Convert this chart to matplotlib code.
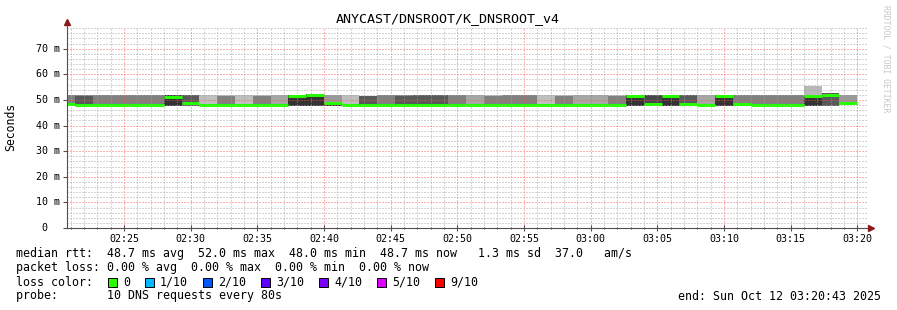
import numpy as np
import matplotlib
matplotlib.use("Agg")
import matplotlib.pyplot as plt
from matplotlib.ticker import MultipleLocator, FuncFormatter

# ================================
# Datos: un valor por paso de 80 s (ms)
# ================================
t_ini = 2 * 60 + 20 + 43 / 60          # 02:20:43 (inicio del grafico)
t_primer_paso = 2 * 60 + 21 + 19 / 60  # 02:21:19
paso = 80 / 60
n_pasos = 45

mediana = [48.5, 48.0, 48.0, 48.0, 48.0, 48.0, 51.3, 49.0, 48.0, 48.0,
           48.0, 48.0, 48.0, 51.4, 52.0, 48.8, 48.0, 48.0, 48.0, 48.0,
           48.0, 48.0, 48.0, 48.0, 48.0, 48.0, 48.0, 48.0, 48.0, 48.0,
           48.0, 48.0, 51.4, 48.6, 51.4, 48.6, 48.0, 51.4, 48.5, 48.0,
           48.0, 48.0, 51.4, 52.0, 48.7]

humo_min = [47.7] * 44 + [47.9]
humo_max = [52.0, 52.0, 52.0, 52.0, 52.0, 52.0, 52.0, 52.0, 52.0, 52.0,
            52.0, 52.0, 52.0, 52.0, 52.3, 52.0, 52.0, 51.4, 52.0, 52.0,
            52.0, 52.0, 52.0, 52.0, 52.0, 52.0, 52.0, 52.0, 52.0, 52.0,
            52.0, 52.0, 52.0, 52.0, 52.0, 52.0, 52.0, 52.0, 52.0, 52.0,
            52.0, 52.0, 55.3, 52.6, 52.0]
# densidad del humo (0 = blanco, 1 = negro)
humo_dens = [0.50, 0.50, 0.50, 0.50, 0.50, 0.50, 0.80, 0.65, 0.25, 0.25,
             0.25, 0.25, 0.35, 0.80, 0.80, 0.40, 0.25, 0.65, 0.50, 0.50,
             0.65, 0.65, 0.50, 0.35, 0.25, 0.50, 0.50, 0.25, 0.25, 0.35,
             0.35, 0.25, 0.80, 0.72, 0.80, 0.65, 0.35, 0.80, 0.50, 0.50,
             0.50, 0.50, 0.28, 0.65, 0.40]

# nucleo mas denso del humo (nan = no hay)
nan = np.nan
nucleo_min = [47.7, 48.6, nan, nan, nan, nan, nan, nan, nan, 47.7,
              nan, 47.7, nan, nan, nan, 47.7, nan, nan, nan, 47.7,
              nan, nan, nan, nan, 47.7, nan, nan, nan, 47.7, nan,
              nan, 47.7, nan, nan, nan, nan, nan, nan, 47.7, nan,
              nan, nan, 47.7, nan, nan]
nucleo_max = [48.2, 51.4, nan, nan, nan, nan, nan, nan, nan, 51.4,
              nan, 51.4, nan, nan, nan, 48.3, nan, nan, nan, 51.4,
              nan, nan, nan, nan, 51.4, nan, nan, nan, 51.4, nan,
              nan, 51.4, nan, nan, nan, nan, nan, nan, 48.1, nan,
              nan, nan, 51.6, nan, nan]
nucleo_dens = [0.80, 0.65, 0, 0, 0, 0, 0, 0, 0, 0.50,
               0, 0.50, 0, 0, 0, 0.80, 0, 0, 0, 0.65,
               0, 0, 0, 0, 0.50, 0, 0, 0, 0.50, 0,
               0, 0.50, 0, 0, 0, 0, 0, 0, 0.80, 0,
               0, 0, 0.80, 0, 0]

perdida = [0] * n_pasos

loss_labels = ["0", "1/10", "2/10", "3/10", "4/10", "5/10", "9/10"]
loss_colors = ["#26ff00", "#00b8ff", "#0059ff", "#5e00ff", "#7e00ff", "#dd00ff", "#ff0000"]

titulo = "ANYCAST/DNSROOT/K_DNSROOT_v4"
linea_rtt = "median rtt:  48.7 ms avg  52.0 ms max  48.0 ms min  48.7 ms now   1.3 ms sd  37.0   am/s"
linea_loss = "packet loss: 0.00 % avg  0.00 % max  0.00 % min  0.00 % now"
linea_probe = "probe:       10 DNS requests every 80s"
linea_end = "end: Sun Oct 12 03:20:43 2025"

# ================================
# Figura
# ================================
W, H = 897, 310
MONO = "DejaVu Sans Mono"
plt.rcParams["lines.scale_dashes"] = False

fig = plt.figure(figsize=(W / 100, H / 100), dpi=100)
fig.patch.set_facecolor("white")


def px(x, y):
    return x / W, 1 - y / H


ax = fig.add_axes([67 / W, (H - 228) / H, 800 / W, 200 / H])
ax.set_xlim(t_ini, t_ini + 60)
ax.set_ylim(0, 78.1)
for s in ax.spines.values():
    s.set_visible(False)

bordes = np.array([t_ini] + [t_primer_paso + k * paso for k in range(n_pasos)])
x0 = bordes[:-1]
ancho = np.diff(bordes)


def gris(d):
    g = 1 - d
    return (g, g, g)


lo = np.array(humo_min)
hi = np.array(humo_max)
ax.bar(x0, hi - lo, bottom=lo, width=ancho, align="edge",
       color=[gris(d) for d in humo_dens], linewidth=0, antialiased=False, zorder=1)

nlo = np.array(nucleo_min)
nhi = np.array(nucleo_max)
ok = ~np.isnan(nlo)
ax.bar(x0[ok], (nhi - nlo)[ok], bottom=nlo[ok], width=ancho[ok], align="edge",
       color=[gris(d) for d, k in zip(nucleo_dens, ok) if k],
       linewidth=0, antialiased=False, zorder=1.5)

lc = ax.hlines(mediana, bordes[:-1], bordes[1:],
               colors=[loss_colors[p] for p in perdida], linewidth=2.1, zorder=4)
lc.set_capstyle("butt")

# rejilla
ax.xaxis.set_major_locator(MultipleLocator(5))
ax.xaxis.set_minor_locator(MultipleLocator(1))
ax.yaxis.set_major_locator(MultipleLocator(10))
ax.yaxis.set_minor_locator(MultipleLocator(2))
ax.set_axisbelow(False)
ax.grid(which="minor", color="#a0a0a0", alpha=0.45, linewidth=0.72,
        linestyle=(0, (1.44, 1.44)), antialiased=False)
ax.grid(which="major", color="#ff5050", alpha=0.45, linewidth=0.72,
        linestyle=(0, (1.44, 1.44)), antialiased=False)

ax.xaxis.set_major_formatter(FuncFormatter(lambda v, p: f"{int(round(v)) // 60:02d}:{int(round(v)) % 60:02d}"))
ax.tick_params(axis="x", which="major", direction="inout", length=4, width=0.8,
               color="#505050", pad=2, labelsize=7.2, labelfontfamily=MONO)
ax.tick_params(axis="x", which="minor", direction="inout", length=2, width=0.8, color="#505050")
ax.tick_params(axis="y", which="major", direction="out", length=3, width=0.8,
               color="#505050", labelleft=False)
ax.tick_params(axis="y", which="minor", length=0)

for v in range(0, 80, 10):
    if v == 0:
        ax.annotate("0", xy=(0, v), xycoords=("axes fraction", "data"), xytext=(-14.4, 0),
                    textcoords="offset points", ha="right", va="center", fontsize=7.2, family=MONO)
    else:
        ax.annotate(f"{v} m", xy=(0, v), xycoords=("axes fraction", "data"), xytext=(-5, 0),
                    textcoords="offset points", ha="right", va="center", fontsize=7.2, family=MONO)

# ejes con flechas
ax.plot([0, 0], [0, 1.025], transform=ax.transAxes, color="#505050", lw=0.8, clip_on=False, zorder=5)
ax.plot([0, 1.004], [0, 0], transform=ax.transAxes, color="#505050", lw=0.8, clip_on=False, zorder=5)
ax.plot([0], [1.03], marker="^", ms=4.5, color="#8b1a1a", mec="#8b1a1a",
        transform=ax.transAxes, clip_on=False, zorder=6)
ax.plot([1.005], [0], marker=">", ms=4.5, color="#8b1a1a", mec="#8b1a1a",
        transform=ax.transAxes, clip_on=False, zorder=6)

# ================================
# Textos
# ================================
fig.text(*px(448, 19), titulo, ha="center", va="center", fontsize=9.6, family=MONO)
fig.text(*px(11, 127), "Seconds", rotation=90, ha="center", va="center", fontsize=8.3, family=MONO)
fig.text(*px(886, 59), "RRDTOOL / TOBI OETIKER", rotation=270, ha="center", va="center",
         fontsize=5.9, family=MONO, color="#c8c8c8")

fig.text(*px(16, 254), linea_rtt, ha="left", va="center", fontsize=8.4, family=MONO)
fig.text(*px(16, 268), linea_loss, ha="left", va="center", fontsize=8.4, family=MONO)
fig.text(*px(16, 282), "loss color:", ha="left", va="center", fontsize=8.4, family=MONO)
fig.text(*px(16, 296), linea_probe, ha="left", va="center", fontsize=8.4, family=MONO)
fig.text(*px(881, 296), linea_end, ha="right", va="center", fontsize=8.4, family=MONO)

x = 108
for lab, col in zip(loss_labels, loss_colors):
    fig.patches.append(plt.Rectangle(px(x, 287), 9 / W, 9 / H, transform=fig.transFigure,
                                     facecolor=col, edgecolor="black", linewidth=0.7))
    fig.text(*px(x + 15, 282), lab, ha="left", va="center", fontsize=8.4, family=MONO)
    x = x + 15 + len(lab) * 7 + 15

fig.savefig("out.png", dpi=100, facecolor="white")
